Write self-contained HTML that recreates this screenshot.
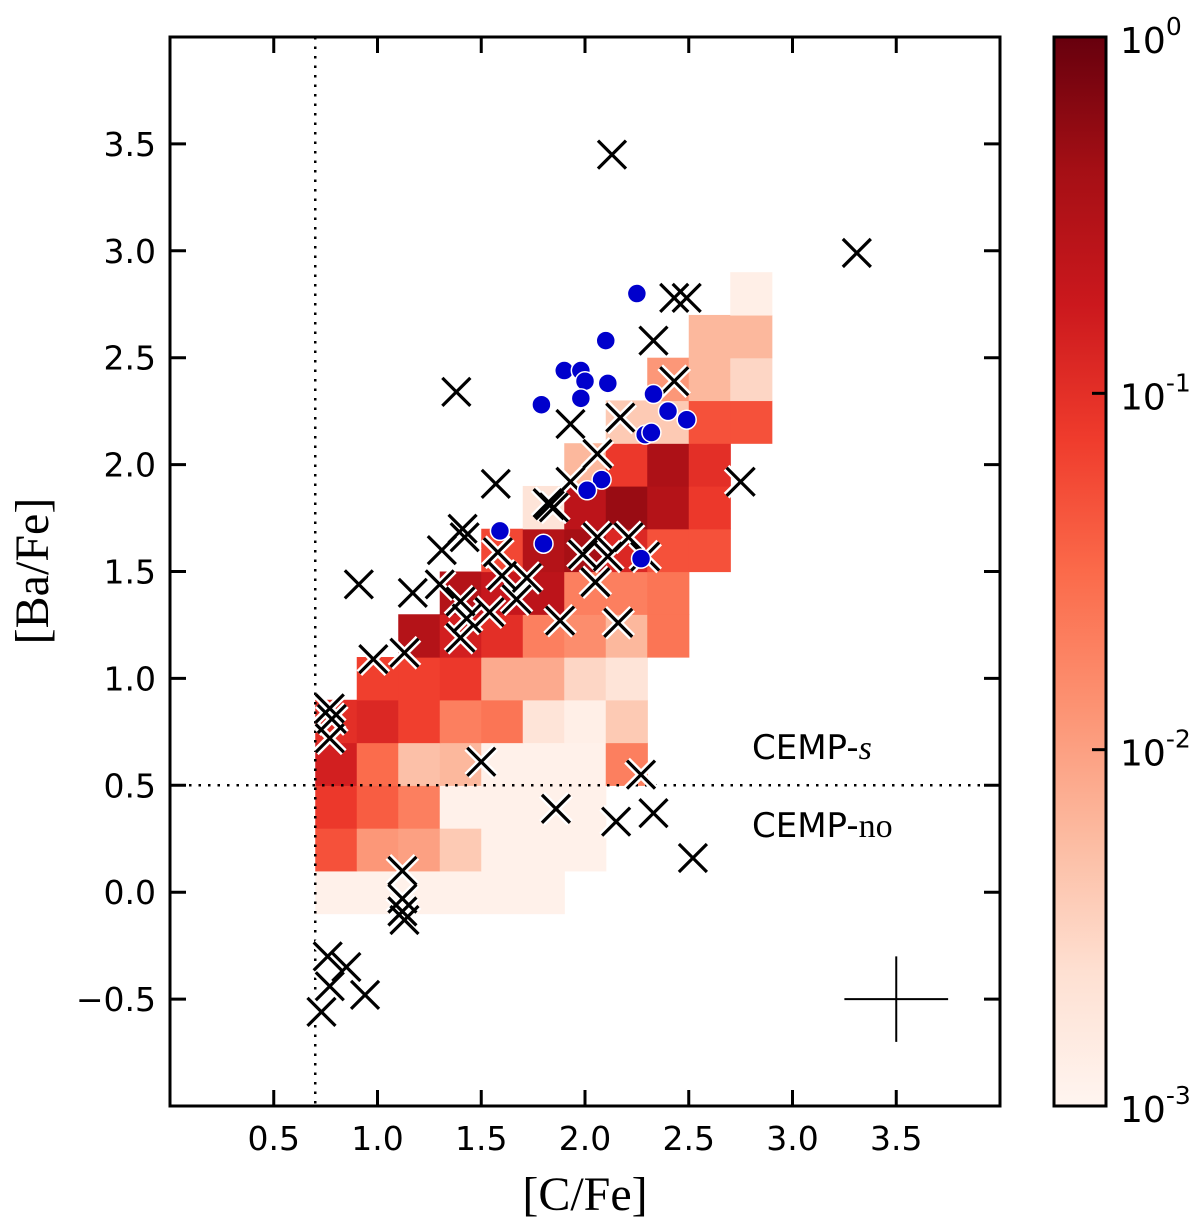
<!DOCTYPE html>
<html><head><meta charset="utf-8"><style>
body{margin:0;background:#fff;}
svg text{font-family:"DejaVu Sans","Liberation Sans",sans-serif;}
</style></head><body>
<svg id="chart" width="1200" height="1220" xmlns="http://www.w3.org/2000/svg">
<defs>
<linearGradient id="cmap" x1="0" y1="1" x2="0" y2="0">
<stop offset="0" stop-color="#fff5f0"/><stop offset="0.125" stop-color="#fee0d2"/><stop offset="0.25" stop-color="#fcbba1"/><stop offset="0.375" stop-color="#fc9272"/><stop offset="0.5" stop-color="#fb6a4a"/><stop offset="0.625" stop-color="#ef3b2c"/><stop offset="0.75" stop-color="#cb181d"/><stop offset="0.875" stop-color="#a50f15"/><stop offset="1" stop-color="#67000d"/>
</linearGradient>
<clipPath id="plotclip"><rect x="170" y="37" width="830" height="1069"/></clipPath>
</defs>
<g id="heat" clip-path="url(#plotclip)"></g>
<g id="guides"></g>
<g id="crosses"></g>
<g id="dots"></g>
<g id="axes"></g>
<text x="752" y="759" font-size="34">CEMP-<tspan font-style="italic" font-family="Liberation Serif, serif">s</tspan></text>
<text x="752" y="837" font-size="34">CEMP-<tspan font-family="Liberation Serif, serif">no</tspan></text>
<text x="585" y="1210" font-size="48" text-anchor="middle" style="font-family:'Liberation Serif',serif">[C/Fe]</text>
<text transform="translate(48,571) rotate(-90)" font-size="48" text-anchor="middle" style="font-family:'Liberation Serif',serif">[Ba/Fe]</text>
<rect x="1054" y="37" width="52" height="1069" fill="url(#cmap)" stroke="#000" stroke-width="3"/>
<g id="cbar"></g>
</svg>
<script>
// heatmap grid: x bin lower edges, y bin lower edges, densities (null = empty)
const xBins=[0.7,0.9,1.1,1.3,1.5,1.7,1.9,2.1,2.3,2.5,2.7];
const yBins=[-0.1,0.1,0.3,0.5,0.7,0.9,1.1,1.3,1.5,1.7,1.9,2.1,2.3,2.5,2.7];
const density=[
[0.0012,0.0012,0.0012,0.0012,0.0012,0.0012,null,null,null,null,null],
[0.05,0.012,0.01,0.004,0.0012,0.0012,0.0012,null,null,null,null],
[0.08,0.04,0.02,0.0012,0.0012,0.0012,0.0012,null,null,null,null],
[0.15,0.03,0.005,0.006,0.0012,0.0012,0.0012,0.02,null,null,null],
[0.1,0.12,0.07,0.02,0.025,0.002,0.0013,0.004,null,null,null],
[null,0.07,0.07,0.08,0.008,0.008,0.003,0.002,null,null,null],
[null,null,0.3,0.15,0.1,0.02,0.015,0.006,0.025,null,null],
[null,null,null,0.3,0.2,0.25,0.02,0.02,0.025,null,null],
[null,null,null,null,0.06,0.3,0.4,0.12,0.05,0.05,null],
[null,null,null,null,null,0.002,0.25,0.5,0.3,0.08,null],
[null,null,null,null,null,null,0.006,0.08,0.35,0.1,null],
[null,null,null,null,null,null,null,0.004,0.004,0.05,0.05],
[null,null,null,null,null,null,null,null,0.012,0.006,0.003],
[null,null,null,null,null,null,null,null,null,0.006,0.006],
[null,null,null,null,null,null,null,null,null,null,0.0013]];
const binW=0.2, binH=0.2;
const crossX=[2.13,3.31,2.43,2.49,2.33,1.38,2.43,1.93,2.17,2.06,1.93,2.75,1.57,1.83,1.85,1.82,2.21,1.41,1.42,1.31,2.06,2.29,1.58,1.99,2.11,1.30,0.91,1.17,1.72,1.60,2.05,1.40,1.43,1.40,1.54,1.67,1.88,2.16,0.98,1.13,0.77,0.78,0.77,1.50,2.27,1.86,2.15,2.33,2.52,1.12,1.12,1.12,1.13,0.76,0.85,0.77,0.94,0.73];
const crossY=[3.45,2.99,2.78,2.78,2.58,2.34,2.39,2.19,2.22,2.05,1.92,1.92,1.91,1.81,1.80,1.82,1.66,1.70,1.66,1.60,1.66,1.57,1.59,1.58,1.57,1.44,1.44,1.40,1.47,1.48,1.45,1.36,1.28,1.19,1.31,1.37,1.27,1.26,1.09,1.12,0.86,0.81,0.72,0.61,0.55,0.39,0.33,0.37,0.16,0.10,-0.03,-0.09,-0.13,-0.30,-0.35,-0.44,-0.48,-0.56];
const dotX=[2.25,2.10,1.90,1.98,2.00,1.98,2.11,1.79,2.33,2.40,2.49,2.29,2.32,2.08,2.01,1.59,1.80,2.27];
const dotY=[2.80,2.58,2.44,2.44,2.39,2.31,2.38,2.28,2.33,2.25,2.21,2.14,2.15,1.93,1.88,1.69,1.63,1.56];
const xTicks=[0.5,1.0,1.5,2.0,2.5,3.0,3.5];
const yTicks=[-0.5,0.0,0.5,1.0,1.5,2.0,2.5,3.0,3.5];
const cbarExps=[0,-1,-2,-3];

const NS="http://www.w3.org/2000/svg";
const L=170,R=1000,T=37,B=1106;
const xs=v=>L+(v-0)/(4-0)*(R-L);
const ys=v=>B-(v-(-1))/(4-(-1))*(B-T);
const CT=37,CB=1106;
const cs=e=>CB-(e-(-3))/3*(CB-CT);
function mk(tag,attrs,parent){const e=document.createElementNS(NS,tag);for(const k in attrs)e.setAttribute(k,attrs[k]);parent.appendChild(e);return e;}
const stops=[[0,[255,245,240]],[0.125,[254,224,210]],[0.25,[252,187,161]],[0.375,[252,146,114]],[0.5,[251,106,74]],[0.625,[239,59,44]],[0.75,[203,24,29]],[0.875,[165,15,21]],[1,[103,0,13]]];
function cmap(t){t=Math.max(0,Math.min(1,t));for(let i=1;i<stops.length;i++){if(t<=stops[i][0]){const a=stops[i-1],b=stops[i];const f=(t-a[0])/(b[0]-a[0]);const c=a[1].map((v,j)=>Math.round(v+(b[1][j]-v)*f));return `rgb(${c})`;}}return 'rgb(103,0,13)';}

const heat=document.getElementById('heat');
density.forEach((row,ri)=>row.forEach((d,ci)=>{
  if(d==null)return;
  const x0=xs(xBins[ci]),x1=xs(xBins[ci]+binW),y1=ys(yBins[ri]),y0=ys(yBins[ri]+binH);
  const r=mk('rect',{x:x0,y:y0,width:x1-x0+0.6,height:y1-y0+0.6,fill:cmap((Math.log10(d)+3)/3)},heat);
  
  
}));

const g=document.getElementById('guides');
const vl=mk('line',{x1:xs(0.7),x2:xs(0.7),y1:T,y2:B,stroke:'#000','stroke-width':2.5,'stroke-dasharray':'2.5 7'},g);


const hl=mk('line',{x1:L,x2:R,y1:ys(0.5),y2:ys(0.5),stroke:'#000','stroke-width':2.5,'stroke-dasharray':'2.5 7'},g);


const ex=mk('path',{d:`M${xs(3.25)} ${ys(-0.5)}H${xs(3.75)}M${xs(3.5)} ${ys(-0.3)}V${ys(-0.7)}`,stroke:'#000','stroke-width':2,fill:'none'},g);



const cg=document.getElementById('crosses');
const h=14;
crossX.forEach((cx,i)=>{
  const px=xs(cx),py=ys(crossY[i]);
  const d=`M${px-h} ${py-h}L${px+h} ${py+h}M${px-h} ${py+h}L${px+h} ${py-h}`;
  const w=mk('path',{d:d,stroke:'#fff','stroke-width':8,fill:'none'},cg);
  
  
});
crossX.forEach((cx,i)=>{
  const px=xs(cx),py=ys(crossY[i]);
  const d=`M${px-h} ${py-h}L${px+h} ${py+h}M${px-h} ${py+h}L${px+h} ${py-h}`;
  const k=mk('path',{d:d,stroke:'#000','stroke-width':3.2,fill:'none'},cg);
  
  
});
const dg=document.getElementById('dots');
dotX.forEach((dx,i)=>{
  const c=mk('circle',{cx:xs(dx),cy:ys(dotY[i]),r:9.5,fill:'#0000cc',stroke:'#fff','stroke-width':1.5},dg);
  
  
});

const ax=document.getElementById('axes');
const fr=mk('rect',{x:L,y:T,width:R-L,height:B-T,fill:'none',stroke:'#000','stroke-width':3},ax);


xTicks.forEach(v=>{
  const p=xs(v);
  const t=mk('path',{d:`M${p} ${B}v-16M${p} ${T}v16`,stroke:'#000','stroke-width':3},ax);
  
  
  const l=mk('text',{x:p,y:B+44,'font-size':33,'text-anchor':'middle'},ax);
  l.textContent=v.toFixed(1);
  
  
});
yTicks.forEach(v=>{
  const p=ys(v);
  const t=mk('path',{d:`M${L} ${p}h16M${R} ${p}h-16`,stroke:'#000','stroke-width':3},ax);
  
  
  const l=mk('text',{x:L-14,y:p+12,'font-size':33,'text-anchor':'end'},ax);
  l.textContent=(v<0?'\u2212':'')+Math.abs(v).toFixed(1);
  
  
});
const cb=document.getElementById('cbar');
cbarExps.forEach(e=>{
  const p=cs(e);
  const t=mk('path',{d:`M1106 ${p}h-14`,stroke:'#000','stroke-width':3},cb);
  
  
  const l=mk('text',{x:1120,y:p+16,'font-size':36},cb);
  l.textContent='10';
  const s=mk('tspan',{dy:-18,'font-size':25},l);
  s.textContent=e===0?'0':'-'+Math.abs(e);
  
  
});
</script>
</body></html>
